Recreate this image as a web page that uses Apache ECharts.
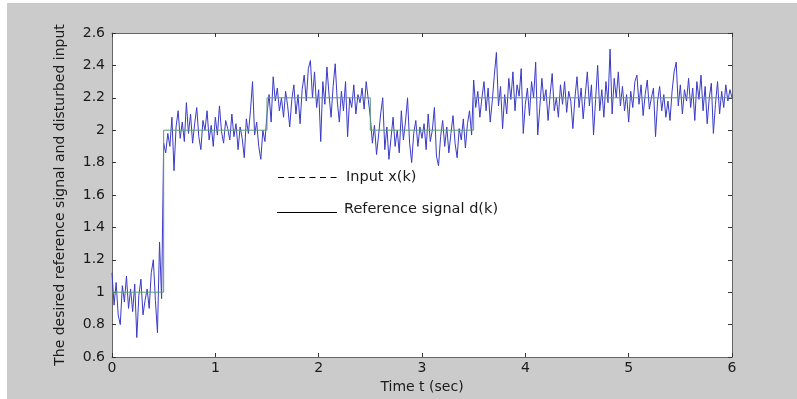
<!DOCTYPE html>
<html>
<head>
<meta charset="utf-8">
<script src="https://cdn.jsdelivr.net/npm/echarts@6/dist/echarts.min.js"></script>
<style>
  html, body { margin: 0; padding: 0; background: #ffffff; }
  #chart { width: 797px; height: 399px; }
</style>
</head>
<body>
<div id="chart"></div>
<script>
// Sampling period of the measured input (seconds)
const samplePeriod = 0.02;

// Disturbed input x(k), one value per sample from t = 0 to t = 6 s
const inputSignal = [
  // 0.00 - 0.48
  1.12, 0.92, 1.06, 0.86, 0.80, 1.04, 0.94, 1.10, 0.90, 1.02, 0.88, 1.05, 0.72,
  0.98, 1.08, 0.86, 0.95, 1.02, 0.90, 1.12, 1.20, 0.95, 0.75, 1.31, 0.96,
  // 0.50 - 0.98
  1.92, 1.86, 1.98, 1.90, 2.08, 1.75, 2.02, 2.12, 1.95, 2.05, 1.93, 2.17, 1.98,
  2.10, 1.92, 2.04, 2.14, 1.96, 1.88, 2.06, 2.00, 2.12, 1.94, 2.03, 1.90,
  // 1.00 - 1.48
  2.08, 1.97, 2.15, 1.99, 1.92, 2.06, 2.01, 1.94, 2.10, 1.96, 2.04, 1.88, 2.02,
  1.95, 1.83, 2.07, 1.98, 2.12, 2.30, 1.97, 2.05, 1.90, 1.82, 2.00, 1.93,
  // 1.50 - 1.98
  2.10, 2.22, 2.05, 2.33, 2.18, 2.26, 2.12, 2.20, 2.08, 2.24, 2.15, 2.02, 2.19,
  2.28, 2.10, 2.22, 2.04, 2.25, 2.34, 2.18, 2.38, 2.43, 2.20, 2.36, 2.14,
  // 2.00 - 2.48
  2.25, 1.93, 2.30, 2.16, 2.39, 2.22, 2.08, 2.27, 2.41, 2.18, 2.05, 2.24, 2.12,
  2.30, 1.96, 2.20, 2.14, 2.28, 2.10, 2.22, 2.17, 2.26, 2.13, 2.30, 2.19,
  // 2.50 - 2.98
  2.08, 1.92, 2.03, 1.85, 1.97, 2.10, 2.20, 1.88, 2.02, 1.82, 1.95, 2.08, 1.90,
  2.00, 1.86, 2.12, 1.94, 2.05, 2.20, 1.92, 1.80, 1.98, 2.06, 1.90, 2.02,
  // 3.00 - 3.48
  1.95, 2.04, 1.88, 2.10, 1.93, 2.00, 2.14, 1.84, 1.78, 1.96, 2.06, 1.90, 2.02,
  1.86, 1.98, 2.09, 1.92, 1.83, 2.01, 1.94, 2.07, 1.89, 2.04, 2.12, 1.97,
  // 3.50 - 3.98
  2.31, 2.14, 2.24, 2.08, 2.20, 2.30, 2.12, 2.26, 2.05, 2.18, 2.34, 2.48, 2.15,
  2.27, 2.01, 2.22, 2.10, 2.32, 2.19, 2.36, 2.12, 2.28, 2.21, 2.38, 1.98,
  // 4.00 - 4.48
  2.16, 2.26, 2.09, 2.30, 2.20, 2.42, 1.97, 2.14, 2.32, 2.18, 2.25, 2.06, 2.22,
  2.35, 2.12, 2.20, 2.08, 2.28, 2.16, 2.30, 2.11, 2.24, 2.18, 2.01, 2.20,
  // 4.50 - 4.98
  2.33, 2.14, 2.26, 2.07, 2.22, 2.36, 2.15, 2.28, 1.97, 2.19, 2.40, 2.12, 2.25,
  2.08, 2.30, 2.17, 2.50, 2.10, 2.32, 2.20, 2.36, 2.15, 2.27, 2.12, 2.22,
  // 5.00 - 5.48
  2.05, 2.24, 2.14, 2.30, 2.34, 2.16, 2.28, 2.09, 2.22, 2.31, 2.13, 2.20, 2.26,
  1.96, 2.18, 2.27, 2.12, 2.22, 2.08, 2.18, 2.06, 2.24, 2.36, 2.42, 2.15,
  // 5.50 - 6.00
  2.28, 2.10, 2.25, 2.18, 2.32, 2.14, 2.26, 2.06, 2.30, 2.19, 2.34, 2.12, 2.27,
  2.04, 2.20, 2.29, 1.98, 2.16, 2.30, 2.10, 2.24, 2.14, 2.28, 2.18, 2.25, 2.20
];

// Piecewise-constant reference d(k): corner times and levels
const refTimes  = [0, 0.5, 0.5, 1.5, 1.5, 2.5, 2.5, 3.5, 3.5, 6];
const refLevels = [1, 1,   2,   2,   2.2, 2.2, 2,   2,   2.2, 2.2];

// Axis ticks
const xTicks = [0, 1, 2, 3, 4, 5, 6];
const yTicks = [0.6, 0.8, 1, 1.2, 1.4, 1.6, 1.8, 2, 2.2, 2.4, 2.6];

const inputPoints = inputSignal.map((v, i) => [+(i * samplePeriod).toFixed(2), v]);
const refPoints = refTimes.map((t, i) => [t, refLevels[i]]);

const FONT = '"DejaVu Sans", Verdana, sans-serif';
const AXIS_COLOR = '#666666';
const TEXT_COLOR = '#1a1a1a';

const chart = echarts.init(document.getElementById('chart'), null, { renderer: 'canvas' });

const baseX = {
  type: 'value',
  min: xTicks[0],
  max: xTicks[xTicks.length - 1],
  interval: 1,
  splitLine: { show: false },
  axisLine: { show: true, onZero: false, lineStyle: { color: AXIS_COLOR, width: 1 } },
  axisTick: { show: true, inside: true, length: 4, lineStyle: { color: '#333' } }
};
const baseY = {
  type: 'value',
  min: yTicks[0],
  max: yTicks[yTicks.length - 1],
  interval: 0.2,
  splitLine: { show: false },
  axisLine: { show: true, onZero: false, lineStyle: { color: AXIS_COLOR, width: 1 } },
  axisTick: { show: true, inside: true, length: 4, lineStyle: { color: '#333' } }
};

chart.setOption({
  animation: false,
  backgroundColor: '#ffffff',
  textStyle: { fontFamily: FONT },
  graphic: [
    // grey figure panel
    { type: 'rect', z: -10, silent: true, shape: { x: 7, y: 3, width: 790, height: 396 }, style: { fill: '#cbcbcb' } },
    // annotation: input
    { type: 'line', z: 100, shape: { x1: 278, y1: 177.5, x2: 340, y2: 177.5 }, style: { stroke: '#000', lineWidth: 1, lineDash: [6, 4.5] } },
    { type: 'text', z: 100, style: { x: 346, y: 177, text: 'Input x(k)', fill: TEXT_COLOR, font: '14.5px ' + FONT, verticalAlign: 'middle' } },
    // annotation: reference
    { type: 'line', z: 100, shape: { x1: 277, y1: 212.5, x2: 337, y2: 212.5 }, style: { stroke: '#000', lineWidth: 1 } },
    { type: 'text', z: 100, style: { x: 344, y: 209, text: 'Reference signal d(k)', fill: TEXT_COLOR, font: '14.5px ' + FONT, verticalAlign: 'middle' } }
  ],
  grid: { left: 112, right: 65, top: 33, bottom: 42, show: true, backgroundColor: '#ffffff', borderWidth: 0 },
  xAxis: [
    Object.assign({}, baseX, {
      position: 'bottom',
      name: 'Time t (sec)',
      nameLocation: 'middle',
      nameGap: 16,
      nameTextStyle: { color: TEXT_COLOR, fontSize: 14, fontFamily: FONT },
      axisLabel: { color: TEXT_COLOR, fontSize: 14, margin: 4, fontFamily: FONT }
    }),
    Object.assign({}, baseX, { position: 'top', axisLabel: { show: false } })
  ],
  yAxis: [
    Object.assign({}, baseY, {
      position: 'left',
      name: 'The desired reference signal and disturbed input',
      nameLocation: 'middle',
      nameGap: 45,
      nameTextStyle: { color: TEXT_COLOR, fontSize: 14, fontFamily: FONT },
      axisLabel: { color: TEXT_COLOR, fontSize: 14, margin: 7, fontFamily: FONT, formatter: v => String(+v.toFixed(1)) }
    }),
    Object.assign({}, baseY, { position: 'right', axisLabel: { show: false } })
  ],
  series: [
    {
      name: 'Input x(k)',
      type: 'line',
      data: inputPoints,
      showSymbol: false,
      lineStyle: { color: '#3a3ac8', width: 1 },
      z: 2
    },
    {
      name: 'Reference signal d(k)',
      type: 'line',
      data: refPoints,
      showSymbol: false,
      lineStyle: { color: '#5f9a78', width: 1 },
      z: 3
    }
  ]
});
</script>
</body>
</html>
